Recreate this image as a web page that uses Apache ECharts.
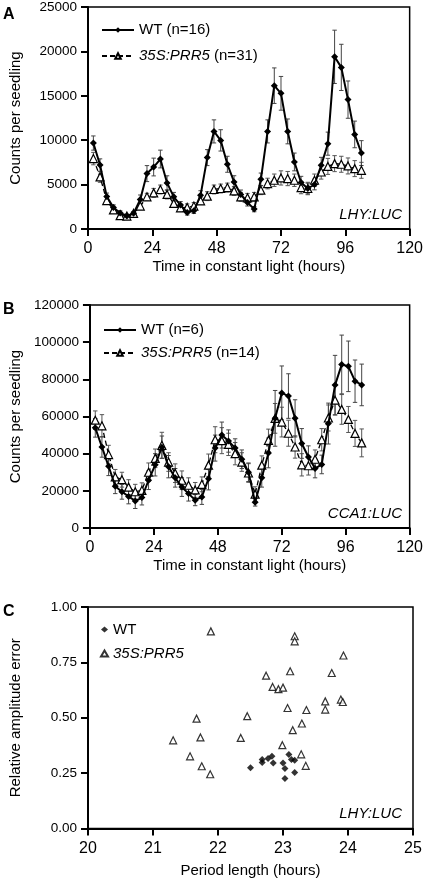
<!DOCTYPE html>
<html><head><meta charset="utf-8">
<script src="https://cdn.jsdelivr.net/npm/echarts@6/dist/echarts.min.js"></script>
<style>html,body{margin:0;padding:0;background:#fff}#c{width:426px;height:880px}</style>
</head><body><div id="c"></div>
<script>
// ---------- Panel A: LHY:LUC ----------
const timesA = [2,4.5,7,9.5,12,14.5,17,19.5,22,24.5,27,29.5,32,34.5,37,39.5,42,44.5,47,49.5,52,54.5,57,59.5,62,64.5,67,69.5,72,74.5,77,79.5,82,84.5,87,89.5,92,94.5,97,99.5,102];
const wtA = [9680,7200,3650,2420,1800,1460,1760,3330,6240,6980,7880,5190,3620,2690,1870,2050,3810,8040,10990,9980,7290,5300,3890,2990,2240,5600,10990,16140,15280,10990,7550,5230,4560,5010,7170,9610,19390,18200,14570,10650,8550];
const wtAErr = [800,700,400,300,250,200,200,500,900,1000,1000,800,500,400,300,300,500,900,1300,1200,900,700,500,400,300,700,1300,2000,1900,1400,1000,700,600,600,900,1300,3000,2600,2100,1500,1400];
const prrA = [7930,5860,3200,2150,1500,1460,1760,2580,3620,4070,4450,3890,2880,2390,2430,2580,3170,3700,4450,4560,4670,4290,3620,3510,3620,4370,5120,5490,5750,5680,5490,4670,4560,5490,6420,7050,7360,7290,7100,6800,6610];
const prrAErr = [700,600,400,300,250,200,200,300,400,500,500,500,400,400,400,400,400,500,500,500,500,500,500,500,500,500,600,700,800,800,700,700,700,700,800,900,900,900,900,900,900];

// ---------- Panel B: CCA1:LUC ----------
const timesB = [2,4.5,7,9.5,12,14.5,17,19.5,22,24.5,27,29.5,32,34.5,37,39.5,42,44.5,47,49.5,52,54.5,57,59.5,62,64.5,67,69.5,72,74.5,77,79.5,82,84.5,87,89.5,92,94.5,97,99.5,102];
const wtB = [53900,43600,33200,22500,19500,17000,14500,16400,25700,34000,43500,33000,27000,22000,18500,15000,16700,26500,43000,50000,46800,43000,37000,30000,13800,27000,40400,59000,72700,71000,59000,45500,38200,32000,34200,56200,76900,88000,87000,79000,77000];
const wtBErr = [5000,5500,5000,4000,4000,4000,4000,4000,5000,6000,6000,6000,5000,5000,4000,3000,4000,6000,7000,7000,6000,5000,5000,5000,2000,5000,8000,15000,14500,12000,10000,8000,6000,5000,5000,11000,16000,15800,13600,11400,11200];
const prrB = [58000,55000,39500,27500,26000,22000,19500,20300,30000,37500,44500,35500,29500,25700,23000,20500,23500,33800,47500,47000,45000,40000,35500,29600,18200,33800,47200,59000,57000,51000,43600,34000,33500,37000,47500,59200,68800,63800,58400,50900,45800];
const prrBErr = [5000,6000,5000,4000,4000,4000,4000,4000,5000,5000,7000,5000,5000,5000,4000,4000,4000,6000,7000,7000,6000,6000,5000,5000,4000,5000,6000,8000,8000,7000,6000,6000,5000,5000,6000,7000,8000,8000,7000,7000,7500];

// ---------- Panel C: period vs relative amplitude error ----------
const wtPeriod = [22.50,22.68,22.68,22.77,22.83,22.85,23.00,23.03,23.03,23.09,23.13,23.18,23.18];
const wtRAE    = [0.274,0.311,0.298,0.316,0.326,0.296,0.296,0.271,0.226,0.334,0.311,0.308,0.253];
const prrPeriod = [21.89,23.18,23.18,23.93,22.74,23.11,23.75,22.84,22.93,23.00,23.65,23.89,23.92,23.07,23.36,23.65,21.67,22.45,23.29,23.15,21.31,21.73,22.35,21.57,21.75,21.88,22.99,23.28,23.35];
const prrRAE    = [0.890,0.868,0.845,0.781,0.690,0.710,0.702,0.639,0.629,0.636,0.574,0.582,0.571,0.544,0.535,0.537,0.496,0.507,0.474,0.444,0.398,0.411,0.409,0.326,0.281,0.245,0.376,0.335,0.283];

// ---------- tick labels ----------
const xTicksTime = [0,24,48,72,96,120];
const yTicksA = [0,5000,10000,15000,20000,25000];
const yTicksB = [0,20000,40000,60000,80000,100000,120000];
const xTicksC = [20,21,22,23,24,25];
const yTicksC = [0.00,0.25,0.50,0.75,1.00];

const FONT = 'Liberation Sans, Arial, Helvetica, sans-serif';
const pairs = (xs, ys) => xs.map((x, i) => [x, ys[i]]);
const errData = (xs, ys, es) => xs.map((x, i) => [x, ys[i] - es[i], ys[i] + es[i]]);

function errRender(color) {
  return function (params, api) {
    const x = api.value(0), lo = api.value(1), hi = api.value(2);
    const p1 = api.coord([x, hi]), p2 = api.coord([x, lo]);
    const w = 2.2;
    const st = { stroke: color, lineWidth: 1 };
    return { type: 'group', children: [
      { type: 'line', shape: { x1: p1[0], y1: p1[1], x2: p2[0], y2: p2[1] }, style: st },
      { type: 'line', shape: { x1: p1[0] - w, y1: p1[1], x2: p1[0] + w, y2: p1[1] }, style: st },
      { type: 'line', shape: { x1: p2[0] - w, y1: p2[1], x2: p2[0] + w, y2: p2[1] }, style: st }
    ]};
  };
}

function xAxisDef(gi, ticks, name, gap) {
  return {
    type: 'value', gridIndex: gi, min: ticks[0], max: ticks[ticks.length - 1],
    interval: ticks[1] - ticks[0],
    name: name, nameLocation: 'middle', nameGap: gap,
    nameTextStyle: { fontFamily: FONT, fontSize: 15, color: '#000' },
    axisLine: { show: true, onZero: false, lineStyle: { color: '#000', width: 2 } },
    axisTick: { show: true, length: 7, lineStyle: { color: '#000', width: 2 } },
    axisLabel: { fontFamily: FONT, fontSize: 16, color: '#000', margin: 12 },
    splitLine: { show: false }
  };
}
function yAxisDef(gi, ticks, name, fmt) {
  return {
    type: 'value', gridIndex: gi, min: ticks[0], max: ticks[ticks.length - 1],
    interval: ticks[1] - ticks[0],
    name: name, nameLocation: 'middle', nameGap: 65, nameRotate: 90,
    nameTextStyle: { fontFamily: FONT, fontSize: 15, color: '#000' },
    axisLine: { show: true, lineStyle: { color: '#000', width: 2 } },
    axisTick: { show: true, length: 7, lineStyle: { color: '#000', width: 2 } },
    axisLabel: { fontFamily: FONT, fontSize: 13.5, color: '#000', margin: 11, formatter: fmt },
    splitLine: { show: false }
  };
}

const legendFmt = function (name) {
  if (name.indexOf('35S:PRR5') === 0) {
    const rest = name.slice(8);
    return '{i|35S:PRR5}' + (rest ? '{n|' + rest + '}' : '');
  }
  return '{n|' + name + '}';
};
const legendText = { fontFamily: FONT, fontSize: 15, color: '#000',
  rich: { i: { fontFamily: FONT, fontSize: 15, fontStyle: 'italic', color: '#000' },
          n: { fontFamily: FONT, fontSize: 15, color: '#000' } } };

function wtLine(name, gi, xs, ys) {
  return { type: 'line', name: name, xAxisIndex: gi, yAxisIndex: gi, data: pairs(xs, ys),
    symbol: 'diamond', symbolSize: 7, z: 4,
    lineStyle: { color: '#000', width: 2 }, itemStyle: { color: '#000' } };
}
function prrLine(name, gi, xs, ys) {
  return { type: 'line', name: name, xAxisIndex: gi, yAxisIndex: gi, data: pairs(xs, ys),
    symbol: 'triangle', symbolSize: 8, z: 3, showAllSymbol: true,
    lineStyle: { color: '#000', width: 1.3, type: [5, 3] },
    itemStyle: { color: '#fff', borderColor: '#000', borderWidth: 1.2 } };
}
function errSeries(gi, xs, ys, es, color) {
  return { type: 'custom', xAxisIndex: gi, yAxisIndex: gi, z: 2, silent: true,
    renderItem: errRender(color), encode: { x: 0, y: [1, 2] }, data: errData(xs, ys, es) };
}

const chart = echarts.init(document.getElementById('c'), null, { renderer: 'canvas' });
const gridBox = { show: true, borderColor: '#000', borderWidth: 1.5, backgroundColor: 'transparent' };
chart.setOption({
  animation: false,
  backgroundColor: '#fff',
  grid: [
    Object.assign({ left: 82, right: 13, top: 6, height: 223 }, gridBox),
    Object.assign({ left: 82, right: 13, top: 305, height: 223 }, gridBox),
    Object.assign({ left: 82, right: 13, top: 607, height: 221.5 }, gridBox)
  ],
  xAxis: [
    xAxisDef(0, xTicksTime, 'Time in constant light (hours)', 30),
    xAxisDef(1, xTicksTime, 'Time in constant light (hours)', 30),
    xAxisDef(2, xTicksC, 'Period length (hours)', 35)
  ],
  yAxis: [
    yAxisDef(0, yTicksA, 'Counts per seedling', v => String(v)),
    yAxisDef(1, yTicksB, 'Counts per seedling', v => String(v)),
    yAxisDef(2, yTicksC, 'Relative amplitude error', v => v.toFixed(2))
  ],
  legend: [
    { data: ['WT (n=16)', '35S:PRR5 (n=31)'], orient: 'vertical', left: 96, top: 17.5,
      itemWidth: 32, itemHeight: 7, itemGap: 11, formatter: legendFmt, textStyle: legendText, selectedMode: false },
    { data: ['WT (n=6)', '35S:PRR5 (n=14)'], orient: 'vertical', left: 98, top: 317.5,
      itemWidth: 32, itemHeight: 7, itemGap: 8, formatter: legendFmt, textStyle: legendText, selectedMode: false },
    { data: ['WT', '35S:PRR5'], orient: 'vertical', left: 95, top: 617,
      itemWidth: 7, itemHeight: 6, itemGap: 9, formatter: legendFmt, textStyle: legendText, selectedMode: false }
  ],
  series: [
    errSeries(0, timesA, prrA, prrAErr, '#555'),
    errSeries(0, timesA, wtA, wtAErr, '#444'),
    prrLine('35S:PRR5 (n=31)', 0, timesA, prrA),
    wtLine('WT (n=16)', 0, timesA, wtA),
    errSeries(1, timesB, prrB, prrBErr, '#555'),
    errSeries(1, timesB, wtB, wtBErr, '#444'),
    prrLine('35S:PRR5 (n=14)', 1, timesB, prrB),
    wtLine('WT (n=6)', 1, timesB, wtB),
    { type: 'scatter', name: 'WT', xAxisIndex: 2, yAxisIndex: 2, data: pairs(wtPeriod, wtRAE),
      symbol: 'diamond', symbolSize: 7, itemStyle: { color: '#000' } },
    { type: 'scatter', name: '35S:PRR5', xAxisIndex: 2, yAxisIndex: 2, data: pairs(prrPeriod, prrRAE),
      symbol: 'triangle', symbolSize: 7, itemStyle: { color: '#fff', borderColor: '#000', borderWidth: 1.2 } }
  ],
  graphic: [
    { type: 'text', left: 3, top: 7, style: { text: 'A', fontFamily: FONT, fontSize: 16, fontWeight: 'bold', fill: '#000' } },
    { type: 'text', left: 3, top: 302, style: { text: 'B', fontFamily: FONT, fontSize: 16, fontWeight: 'bold', fill: '#000' } },
    { type: 'text', left: 3, top: 604, style: { text: 'C', fontFamily: FONT, fontSize: 16, fontWeight: 'bold', fill: '#000' } },
    { type: 'text', right: 24, top: 207, style: { text: 'LHY:LUC', fontFamily: FONT, fontSize: 15, fontStyle: 'italic', fill: '#000' } },
    { type: 'text', right: 24, top: 506, style: { text: 'CCA1:LUC', fontFamily: FONT, fontSize: 15, fontStyle: 'italic', fill: '#000' } },
    { type: 'text', right: 24, top: 806, style: { text: 'LHY:LUC', fontFamily: FONT, fontSize: 15, fontStyle: 'italic', fill: '#000' } }
  ]
});
</script>
</body></html>
